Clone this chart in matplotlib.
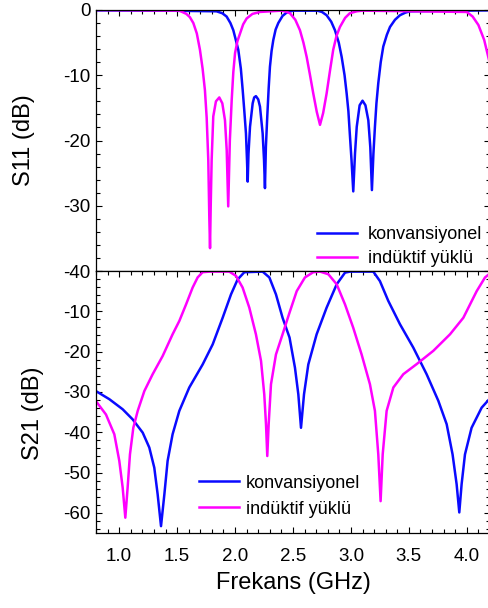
import numpy as np
import matplotlib
matplotlib.use("Agg")
import matplotlib.pyplot as plt
from matplotlib.ticker import MultipleLocator

plt.rcParams['font.family'] = ['Liberation Sans', 'DejaVu Sans']
plt.rcParams['axes.unicode_minus'] = False

# S11, conventional filter (blue)
s11_conv_f = [0.80, 1.40, 1.84, 1.89, 1.927, 1.96, 1.985, 2.028, 2.05, 2.066, 2.08, 2.094,
              2.103, 2.109, 2.116, 2.129, 2.152, 2.165, 2.18, 2.20, 2.215, 2.238, 2.25, 2.258,
              2.266, 2.278, 2.29, 2.301, 2.315, 2.33, 2.35, 2.373, 2.41, 2.445, 2.50,
              2.71, 2.75, 2.79, 2.83, 2.862, 2.895, 2.92, 2.945, 2.963, 2.978, 2.99, 3.005,
              3.02, 3.035, 3.05, 3.075, 3.10, 3.125, 3.15, 3.167, 3.181, 3.194, 3.207, 3.22,
              3.236, 3.257, 3.279, 3.31, 3.337, 3.38, 3.423, 3.47, 3.51, 4.20]
s11_conv_db = [-0.05, -0.1, -0.2, -0.5, -1.0, -2.0, -3.1, -6.1, -9.0, -12.3, -15.5, -18.9,
               -23.0, -26.3, -22.0, -17.9, -14.3, -13.4, -13.2, -13.7, -14.8, -18.9, -23.0, -27.3,
               -21.0, -16.3, -12.0, -8.7, -6.3, -4.6, -3.0, -2.0, -0.9, -0.4, -0.1,
               -0.1, -0.3, -0.8, -1.8, -3.1, -5.0, -7.2, -10.0, -12.8, -15.5, -18.9, -23.0,
               -27.8, -22.0, -17.9, -14.6, -13.9, -14.6, -16.9, -21.0, -27.6, -22.0, -17.9, -14.3,
               -11.2, -8.0, -5.6, -3.8, -2.6, -1.5, -0.8, -0.4, -0.2, -0.05]

# S11, inductively loaded filter (magenta)
s11_ind_f = [0.80, 1.52, 1.58, 1.61, 1.64, 1.67, 1.697, 1.72, 1.74, 1.755, 1.769, 1.778,
             1.784, 1.79, 1.798, 1.812, 1.835, 1.864, 1.89, 1.913, 1.928, 1.941, 1.955, 1.971,
             1.985, 2.00, 2.02, 2.043, 2.07, 2.10, 2.15, 2.215, 2.40, 2.44, 2.474, 2.52,
             2.56, 2.59, 2.618, 2.645, 2.675, 2.705, 2.733, 2.76, 2.79, 2.82, 2.847, 2.875,
             2.905, 2.95, 2.99, 3.05, 3.10, 4.00, 4.05, 4.10, 4.15, 4.20]
s11_ind_db = [0.0, -0.1, -0.6, -1.1, -2.0, -3.6, -6.1, -9.0, -12.3, -16.5, -23.0, -32.0,
              -36.5, -30.0, -23.0, -16.3, -14.0, -13.4, -14.3, -16.9, -21.5, -30.1, -20.0, -13.8,
              -9.5, -6.6, -4.8, -3.6, -2.2, -1.3, -0.6, -0.3, -0.1, -0.25, -0.5, -1.5,
              -3.1, -5.0, -7.2, -9.8, -12.8, -15.6, -17.6, -15.8, -12.8, -9.2, -6.1, -4.0,
              -2.6, -1.2, -0.5, -0.2, -0.1, -0.3, -1.0, -2.3, -4.6, -8.3]

# S21, conventional filter (blue)
s21_conv_f = [0.80, 0.915, 1.03, 1.116, 1.203, 1.26, 1.303, 1.332, 1.361, 1.39, 1.418, 1.461,
              1.519, 1.605, 1.72, 1.807, 1.893, 1.965, 2.022, 2.08, 2.238, 2.296, 2.353, 2.41,
              2.47, 2.517, 2.546, 2.569, 2.595, 2.632, 2.704, 2.79, 2.877, 2.949, 2.992, 3.193,
              3.25, 3.322, 3.423, 3.538, 3.653, 3.754, 3.826, 3.877, 3.912, 3.935, 3.955, 3.984,
              4.041, 4.128, 4.20]
s21_conv_db = [-29.8, -31.8, -34.3, -36.8, -40.1, -43.8, -48.8, -55.4, -63.3, -55.4, -47.1, -40.5,
               -34.7, -28.9, -23.2, -18.2, -11.6, -5.8, -2.1, -0.3, -0.15, -1.6, -5.8, -11.6,
               -16.5, -24.0, -30.6, -38.9, -30.6, -23.2, -15.7, -9.1, -3.3, -0.4, -0.15, -0.15,
               -2.5, -7.4, -13.2, -19.0, -25.6, -32.2, -38.0, -45.5, -52.9, -59.9, -52.9, -45.5,
               -38.9, -33.9, -31.6]

# S21, inductively loaded filter (magenta)
s21_ind_f = [0.80, 0.886, 0.958, 1.001, 1.03, 1.053, 1.073, 1.093, 1.122, 1.16, 1.217, 1.289,
             1.375, 1.461, 1.519, 1.577, 1.634, 1.677, 1.72, 1.778, 1.95, 2.008, 2.065, 2.123,
             2.18, 2.224, 2.252, 2.267, 2.278, 2.29, 2.31, 2.353, 2.41, 2.468, 2.532, 2.603,
             2.675, 2.733, 2.805, 2.877, 2.949, 3.02, 3.092, 3.164, 3.207, 3.236, 3.256, 3.274,
             3.308, 3.366, 3.452, 3.567, 3.711, 3.855, 3.97, 4.085, 4.157, 4.20]
s21_ind_db = [-32.3, -35.6, -40.5, -47.1, -53.7, -61.2, -53.7, -45.5, -38.9, -34.7, -29.8, -25.6,
              -21.1, -15.7, -12.4, -8.3, -4.1, -1.6, -0.3, -0.15, -0.15, -1.2, -4.1, -9.1,
              -15.7, -22.3, -30.6, -38.0, -45.9, -38.0, -28.1, -20.7, -15.7, -10.5, -5.0, -1.6,
              -0.3, -0.15, -0.8, -3.3, -8.3, -14.1, -20.7, -28.1, -34.7, -45.5, -57.1, -45.5,
              -34.7, -28.9, -25.6, -23.1, -19.8, -15.7, -11.6, -5.0, -1.6, -0.6]

blue = '#0a0aff'
magenta = '#ff00ff'
lw = 1.8
labels = ['konvansiyonel', 'indüktif yüklü']

fig = plt.figure(figsize=(4.89, 6.08), dpi=100)
W, H = 489, 608
ax1 = fig.add_axes([96 / W, (H - 271) / H, 394 / W, 261 / H])
ax2 = fig.add_axes([96 / W, (H - 533) / H, 394 / W, 262 / H])

ax1.plot(s11_conv_f, s11_conv_db, color=blue, lw=lw, label=labels[0])
ax1.plot(s11_ind_f, s11_ind_db, color=magenta, lw=lw, label=labels[1])
ax2.plot(s21_conv_f, s21_conv_db, color=blue, lw=lw, label=labels[0])
ax2.plot(s21_ind_f, s21_ind_db, color=magenta, lw=lw, label=labels[1])

for ax in (ax1, ax2):
    ax.set_xlim(0.8, 4.2)
    ax.xaxis.set_major_locator(MultipleLocator(0.5))
    ax.xaxis.set_minor_locator(MultipleLocator(0.1))
    ax.yaxis.set_major_locator(MultipleLocator(10))
    ax.yaxis.set_minor_locator(MultipleLocator(2))
    ax.tick_params(which='both', direction='in', left=True, right=True, labelsize=13.5, pad=4)
    ax.tick_params(which='major', length=4.5, width=0.8)
    ax.tick_params(which='minor', length=3, width=0.8)
    for s in ax.spines.values():
        s.set_linewidth(0.9)

ax1.set_ylim(-40, 0)
ax1.set_yticks([0, -10, -20, -30, -40])
ax1.tick_params(which='both', top=True, bottom=False, labelbottom=False)
ax1.set_ylabel('S11 (dB)', fontsize=17)
ax1.yaxis.set_label_coords(-61 / 394, 0.5)

ax2.set_ylim(-65, 0)
ax2.set_yticks([0, -10, -20, -30, -40, -50, -60])
ax2.set_yticklabels(['', '-10', '-20', '-30', '-40', '-50', '-60'])
ax2.tick_params(which='both', top=True, bottom=True)
ax2.tick_params(axis='x', labelsize=13.5, pad=11)
ax2.set_ylabel('S21 (dB)', fontsize=17)
ax2.yaxis.set_label_coords(-52 / 394, 120 / 262)
ax2.set_xlabel('Frekans (GHz)', fontsize=17, labelpad=5)

ax1.legend(loc='lower right', bbox_to_anchor=(1.012, -0.035), frameon=False, fontsize=13,
           handlelength=2.2, handletextpad=0.6, labelspacing=0.4, borderaxespad=0.3)
ax2.legend(loc='lower left', bbox_to_anchor=(0.23, 0.01), frameon=False, fontsize=13,
           handlelength=2.2, handletextpad=0.4, labelspacing=0.5, borderaxespad=0.3)

fig.savefig('out.png', dpi=100)
